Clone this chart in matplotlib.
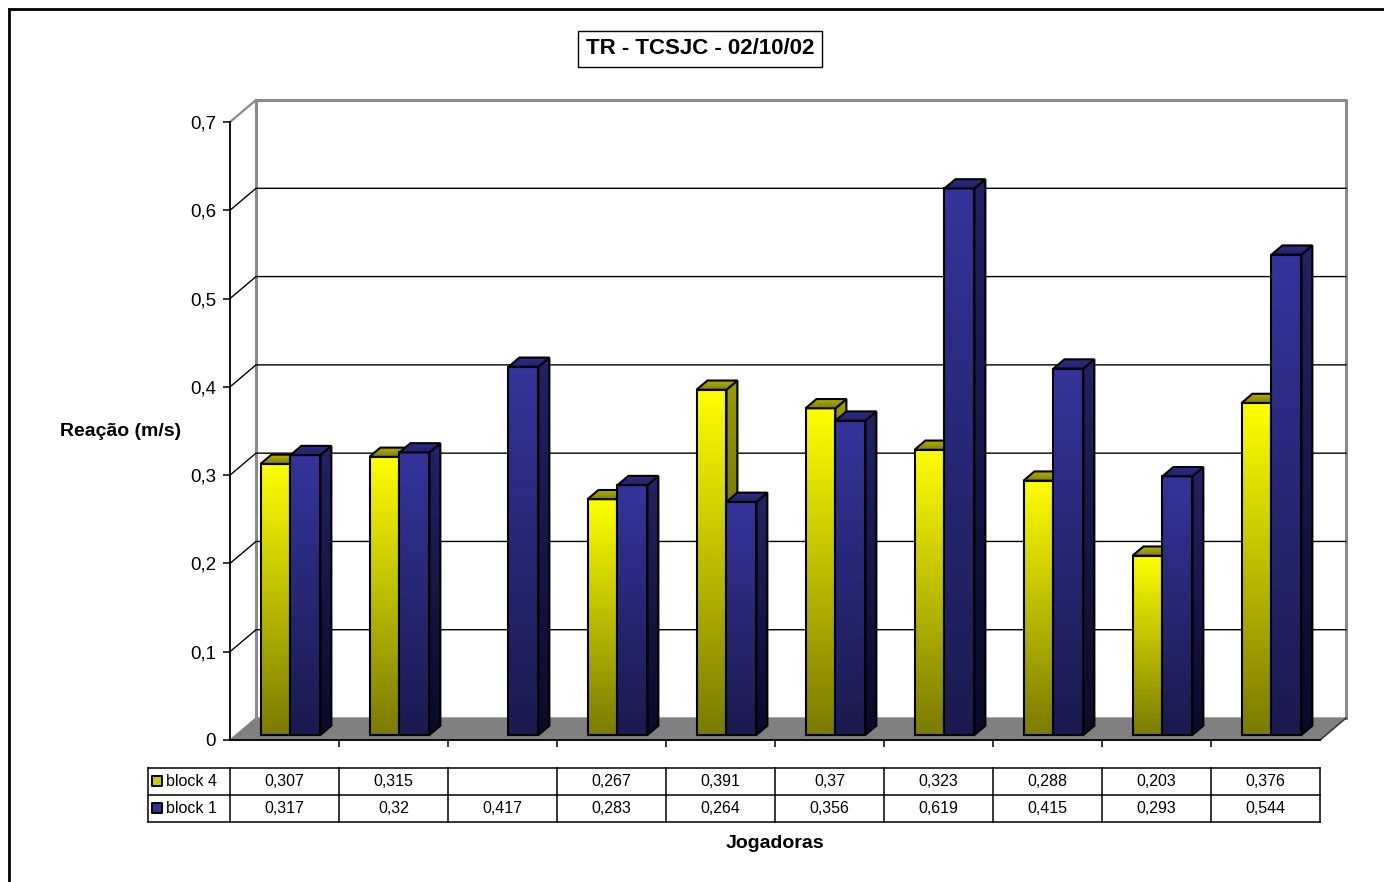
import numpy as np
import matplotlib.pyplot as plt
from matplotlib.patches import Polygon
from matplotlib.colors import LinearSegmentedColormap
from matplotlib.lines import Line2D
from matplotlib.ticker import FuncFormatter, FixedLocator

plt.rcParams['font.family'] = ['Liberation Sans', 'DejaVu Sans']

# tempos de reação por jogadora (m/s)
series_names = ["block 4", "block 1"]
block4 = [0.307, 0.315, None, 0.267, 0.391, 0.37, 0.323, 0.288, 0.203, 0.376]
block1 = [0.317, 0.32, 0.417, 0.283, 0.264, 0.356, 0.619, 0.415, 0.293, 0.544]
yticks = [0, 0.1, 0.2, 0.3, 0.4, 0.5, 0.6, 0.7]

n = len(block1)
ymax = 0.7

# 3D look: depth offset of the back wall, in data units
DX, DY = 0.2385, 0.0249
F0, F1 = 0.23, 0.65        # front/back depth fraction of the bars
BW = 0.275                 # bar width

face_cols = {
    "block 4": dict(top="#ffff00", bottom="#7a7a00", side_top="#9a9a00", side_bottom="#4a4a00",
                    cap1="#808000", cap2="#b4b400", key="#cccc00"),
    "block 1": dict(top="#34349c", bottom="#1a1a4e", side_top="#222266", side_bottom="#0a0a28",
                    cap1="#22226a", cap2="#2e2e88", key="#333399"),
}

fig = plt.figure(figsize=(13.84, 8.82), dpi=100)
ax = fig.add_axes([230 / 1384, 142 / 882, 1090 / 1384, 618 / 882])
ax.set_xlim(0, n)
ax.set_ylim(0, ymax)


def gradient_poly(verts, c_top, c_bot, z):
    verts = np.asarray(verts)
    cmap = LinearSegmentedColormap.from_list("g", [c_bot, c_top])
    x0, y0 = verts.min(axis=0)
    x1, y1 = verts.max(axis=0)
    grad = np.linspace(0, 1, 256).reshape(-1, 1)
    im = ax.imshow(grad, cmap=cmap, extent=(x0, x1, y0, y1), origin="lower",
                   aspect="auto", zorder=z, interpolation="bilinear")
    clip = Polygon(verts, closed=True, facecolor="none", edgecolor="none", transform=ax.transData)
    ax.add_patch(clip)
    im.set_clip_path(clip)
    ax.add_patch(Polygon(verts, closed=True, facecolor="none", edgecolor="black",
                         lw=1.5, joinstyle="miter", zorder=z + 0.5, clip_on=False))


# floor
ax.add_patch(Polygon([(0, 0), (n, 0), (n + DX, DY), (DX, DY)], closed=True,
                     facecolor="#808080", edgecolor="#808080", lw=1, zorder=1, clip_on=False))
ax.plot([n, n + DX], [0, DY], color="#404040", lw=1.2, zorder=1.2, clip_on=False)

# back wall gridlines (with the diagonal on the side wall)
for v in yticks[1:-1]:
    ax.plot([0, DX, n + DX], [v, v + DY, v + DY], color="black", lw=1, zorder=1.1, clip_on=False)

# wall frame
ax.plot([DX, DX, n + DX, n + DX], [DY, ymax + DY, ymax + DY, DY],
        color="#8a8a8a", lw=2.2, zorder=1.05, clip_on=False)
ax.plot([0, DX], [ymax, ymax + DY], color="#8a8a8a", lw=1.6, zorder=1.05, clip_on=False)

# bars
z = 3
for i in range(n):
    for k, (name, vals) in enumerate(zip(series_names, [block4, block1])):
        v = vals[i]
        if v is None:
            continue
        c = face_cols[name]
        xl = i + 0.5 - BW + k * BW + F0 * DX
        xr = xl + BW
        yb = F0 * DY
        yt = v + F0 * DY
        ddx = (F1 - F0) * DX
        ddy = (F1 - F0) * DY
        # side face
        gradient_poly([(xr, yb), (xr + ddx, yb + ddy), (xr + ddx, yt + ddy), (xr, yt)],
                      c["side_top"], c["side_bottom"], z)
        # front face
        gradient_poly([(xl, yb), (xr, yb), (xr, yt), (xl, yt)], c["top"], c["bottom"], z + 1)
        # top face
        gradient_poly([(xl, yt), (xr, yt), (xr + ddx, yt + ddy), (xl + ddx, yt + ddy)],
                      c["cap2"], c["cap1"], z + 2)
        z += 3

ax.set_xlim(0, n)
ax.set_ylim(0, ymax)

# axes
for s in ["top", "right"]:
    ax.spines[s].set_visible(False)
for s in ["left", "bottom"]:
    ax.spines[s].set_color("black")
    ax.spines[s].set_linewidth(1.3)
    ax.spines[s].set_zorder(200)
ax.yaxis.set_major_locator(FixedLocator(yticks))
ax.yaxis.set_major_formatter(FuncFormatter(lambda v, p: "0" if v == 0 else f"{v:.1f}".replace(".", ",")))
ax.xaxis.set_major_locator(FixedLocator(range(1, n)))
ax.set_xticklabels([])
ax.tick_params(axis="y", direction="out", length=5, width=1.1, pad=5, labelsize=13.5)
ax.tick_params(axis="x", direction="out", length=5, width=1.1)
ax.set_facecolor("none")

# data table below the plot
row_h = 27 / 882.86
top = -28 / 882.86
x_head = -82 / 109
ys = [top, top - row_h, top - 2 * row_h]
for y in ys:
    ax.plot([x_head, n], [y, y], color="black", lw=1.1, clip_on=False)
for x in [x_head] + list(range(n + 1)):
    ax.plot([x, x], [ys[0], ys[-1]], color="black", lw=1.1, clip_on=False)
for r, (name, vals) in enumerate(zip(series_names, [block4, block1])):
    yc = top - (r + 0.5) * row_h
    ax.scatter([x_head + 0.085], [yc], marker="s", s=60, color=face_cols[name]["key"],
               edgecolor="black", linewidths=1.4, clip_on=False, zorder=10)
    ax.text(x_head + 0.165, yc, name, ha="left", va="center", fontsize=11.5)
    for i, v in enumerate(vals):
        if v is None:
            continue
        ax.text(i + 0.5, yc, f"{v:g}".replace(".", ","), ha="center", va="center", fontsize=11.5)

# titles
fig.text(700 / 1384, 1 - 49 / 882, "TR - TCSJC - 02/10/02", ha="center", va="center",
         fontsize=16, fontweight="bold",
         bbox=dict(boxstyle="square,pad=0.35", facecolor="white", edgecolor="black", lw=1))
fig.text(60 / 1384, 1 - 432 / 882, "Reação (m/s)", ha="left", va="center",
         fontsize=14, fontweight="bold")
fig.text(775 / 1384, 1 - 844 / 882, "Jogadoras", ha="center", va="center",
         fontsize=14, fontweight="bold")

# chart area border
fig.add_artist(Line2D([9 / 1384, 9 / 1384], [0, 1 - 9 / 882], color="black", lw=2))
fig.add_artist(Line2D([9 / 1384, 1], [1 - 9 / 882, 1 - 9 / 882], color="black", lw=2))

fig.savefig("out.png", dpi=100)
